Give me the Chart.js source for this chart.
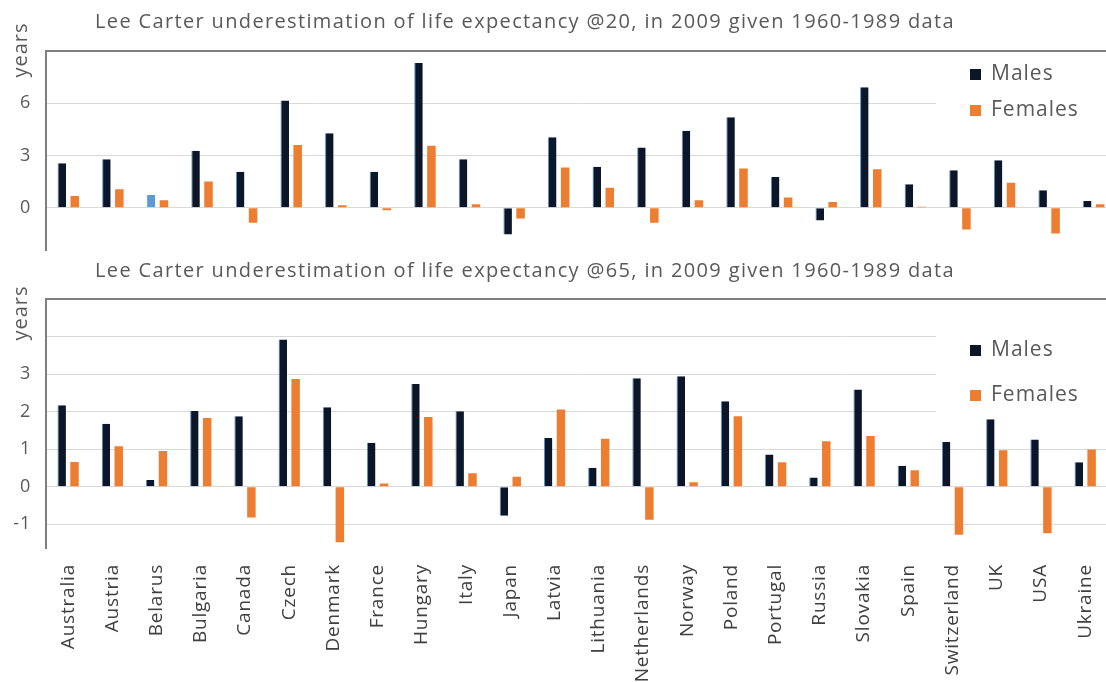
<!DOCTYPE html>
<html>
<head>
<meta charset="utf-8">
<script src="https://cdn.jsdelivr.net/npm/chart.js@4"></script>
<style>
  body { margin: 0; background: #fff; overflow: hidden; }
  #wrap { position: relative; width: 1106px; height: 682px; overflow: hidden; }
  #top { position: absolute; left: 0; top: 0; }
  #bottom { position: absolute; left: 0; top: 255px; }
</style>
</head>
<body>
<div id="wrap">
  <canvas id="top" width="1116" height="276"></canvas>
  <canvas id="bottom" width="1116" height="427"></canvas>
</div>
<script>
const countries = [
  "Australia", "Austria", "Belarus", "Bulgaria", "Canada", "Czech", "Denmark", "France",
  "Hungary", "Italy", "Japan", "Latvia", "Lithuania", "Netherlands", "Norway", "Poland",
  "Portugal", "Russia", "Slovakia", "Spain", "Switzerland", "UK", "USA", "Ukraine"
];

// @20
const males20 = [2.56, 2.79, 0.73, 3.27, 2.06, 6.16, 4.27, 2.06, 8.31, 2.79, -1.54, 4.04,
  2.35, 3.46, 4.42, 5.19, 1.77, -0.73, 6.92, 1.35, 2.15, 2.73, 1.0, 0.39];
const females20 = [0.67, 1.06, 0.43, 1.5, -0.87, 3.6, 0.14, -0.15, 3.56, 0.2, -0.62, 2.31,
  1.15, -0.87, 0.43, 2.25, 0.58, 0.33, 2.21, 0.05, -1.25, 1.44, -1.48, 0.2];

// @65
const males65 = [2.17, 1.68, 0.18, 2.02, 1.88, 3.92, 2.12, 1.17, 2.74, 2.01, -0.77, 1.3,
  0.51, 2.89, 2.94, 2.28, 0.86, 0.25, 2.59, 0.56, 1.19, 1.8, 1.26, 0.65];
const females65 = [0.66, 1.08, 0.95, 1.83, -0.82, 2.87, -1.48, 0.09, 1.86, 0.36, 0.27, 2.06,
  1.28, -0.88, 0.12, 1.88, 0.65, 1.21, 1.35, 0.44, -1.28, 0.97, -1.24, 0.99];

const ticks20 = [0, 3, 6, 9];
const ticks65 = [-1, 0, 1, 2, 3, 4, 5];

const title20 = "Lee Carter underestimation of life expectancy @20, in 2009 given 1960-1989 data";
const title65 = "Lee Carter underestimation of life expectancy @65, in 2009 given 1960-1989 data";

const navy = '#0b1628';
const orange = '#ed7d31';
const grey = '#595959';
const font = '"Open Sans", sans-serif';

// title, "years" label, top border and legend box
const decorPlugin = {
  id: 'decor',
  beforeLayout(chart) { chart.ctx.letterSpacing = '0.8px'; },
  beforeDraw(chart) { chart.ctx.letterSpacing = '0.8px'; },
  beforeDatasetsDraw(chart, args, opts) {
    const ctx = chart.ctx;
    const a = chart.chartArea;
    ctx.save();
    // top border
    ctx.strokeStyle = '#7f7f7f';
    ctx.lineWidth = 2;
    ctx.beginPath();
    ctx.moveTo(a.left - 1, a.top);
    ctx.lineTo(a.right, a.top);
    ctx.stroke();
    // legend box covers grid lines
    ctx.fillStyle = '#fff';
    ctx.fillRect(936, opts.boxTop, 200, opts.boxH);
    // legend
    ctx.font = '21px ' + font;
    ctx.letterSpacing = '1px';
    ctx.textBaseline = 'middle';
    ctx.textAlign = 'left';
    ctx.fillStyle = navy;
    ctx.fillRect(970, opts.legY[0] - 5, 11, 11);
    ctx.fillStyle = orange;
    ctx.fillRect(970, opts.legY[1] - 5, 11, 11);
    ctx.fillStyle = grey;
    ctx.fillText('Males', 991, opts.legY[0]);
    ctx.fillText('Females', 991, opts.legY[1]);
    ctx.restore();
  },
  afterDraw(chart, args, opts) {
    const ctx = chart.ctx;
    ctx.save();
    ctx.fillStyle = grey;
    ctx.font = '20px ' + font;
    ctx.letterSpacing = '1.35px';
    ctx.textAlign = 'center';
    ctx.textBaseline = 'middle';
    ctx.fillText(opts.title, 525, opts.titleY);
    ctx.translate(21, opts.yearsY);
    ctx.rotate(-Math.PI / 2);
    ctx.font = '20px ' + font;
    ctx.letterSpacing = '1px';
    ctx.fillText('years', 0, 0);
    ctx.restore();
  }
};

function makeChart(id, males, females, maleColors, yMin, yMax, tickVals, hidden, decor, showX, padTop, xHeight, padBottom) {
  return new Chart(document.getElementById(id), {
    type: 'bar',
    data: {
      labels: countries,
      datasets: [
        {
          label: 'Males',
          data: males,
          backgroundColor: maleColors,
          borderColor: '#5b8fd0',
          borderWidth: { left: 1, right: 0, top: 0, bottom: 0 },
          borderSkipped: false,
          categoryPercentage: 0.58,
          barPercentage: 0.66
        },
        {
          label: 'Females',
          data: females,
          backgroundColor: orange,
          borderWidth: 0,
          categoryPercentage: 0.58,
          barPercentage: 0.66
        }
      ]
    },
    options: {
      responsive: false,
      animation: false,
      layout: { padding: { top: padTop, left: 0, right: 0, bottom: padBottom } },
      plugins: {
        legend: { display: false },
        tooltip: { enabled: false },
        decor: decor
      },
      scales: {
        x: {
          display: showX,
          grid: { display: false },
          border: { display: false },
          ticks: {
            color: '#404040',
            font: { family: font, size: 19 },
            minRotation: 90,
            maxRotation: 90,
            padding: 8,
            autoSkip: false
          },
          afterFit(scale) { scale.height = xHeight; }
        },
        y: {
          min: yMin,
          max: yMax,
          afterBuildTicks(scale) { scale.ticks = tickVals.map(v => ({ value: v })); },
          afterFit(scale) { scale.width = 46; },
          grid: {
            drawTicks: false,
            color: c => c.tick && c.tick.value === yMax ? 'rgba(0,0,0,0)' : '#d9d9d9',
            lineWidth: 1
          },
          border: { display: true, color: '#7f7f7f', width: 2 },
          ticks: {
            color: grey,
            font: { family: font, size: 18 },
            padding: 15,
            callback: v => hidden.includes(v) ? '' : String(v)
          }
        }
      }
    },
    plugins: [decorPlugin]
  });
}

const maleColors20 = countries.map(c => c === 'Belarus' ? '#5b9bd5' : navy);
const maleColors65 = countries.map(() => navy);

makeChart('top', males20, females20, maleColors20, -2.44, 9, ticks20, [9],
  { title: title20, titleY: 22, yearsY: 50, legY: [74, 110], boxTop: 55, boxH: 80 },
  false, 51, 0, 6);

makeChart('bottom', males65, females65, maleColors65, -1.63, 5, ticks65, [4, 5],
  { title: title65, titleY: 16, yearsY: 58, legY: [95, 140], boxTop: 65, boxH: 95 },
  true, 44, 134, 0);
</script>
</body>
</html>
